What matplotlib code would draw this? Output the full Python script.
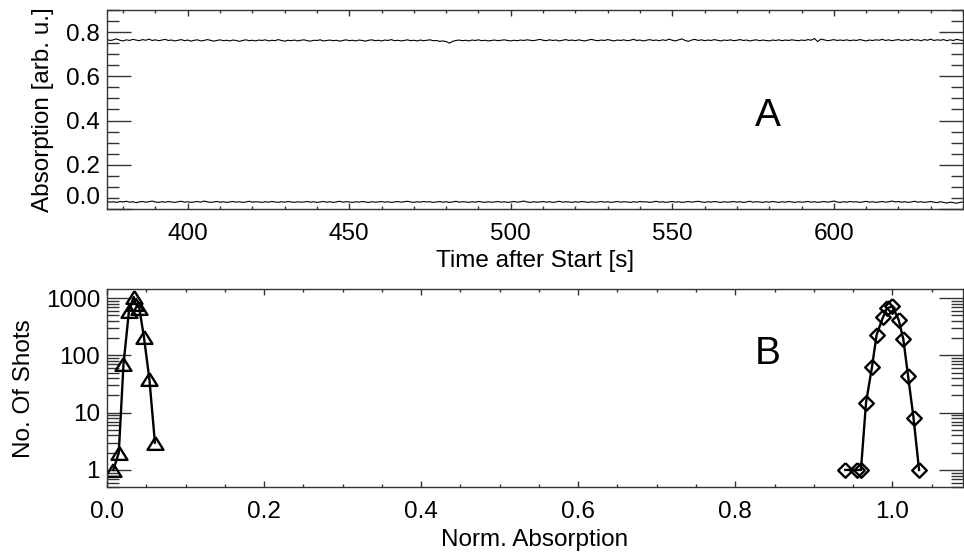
import matplotlib
matplotlib.use("Agg")
import matplotlib.pyplot as plt
import numpy as np
from matplotlib.ticker import FixedLocator, MultipleLocator, NullFormatter, LogLocator, FormatStrFormatter

plt.rcParams["font.family"] = ["Liberation Sans", "DejaVu Sans"]
plt.rcParams["font.size"] = 17.5

# --- panel A: absorption traces (one value per second) ---
time_start = 375.0
time_step = 1.0
trace_high = [
    0.766, 0.762, 0.765, 0.769, 0.763, 0.760, 0.765, 0.762, 0.767, 0.764, 0.761, 0.766, 0.763, 0.768, 0.762, 0.765, 0.761, 0.764, 0.767,
    0.762, 0.764, 0.760, 0.763, 0.766, 0.761, 0.764, 0.759, 0.763, 0.765, 0.760, 0.762, 0.766, 0.763, 0.759, 0.762, 0.765, 0.761, 0.763,
    0.760, 0.764, 0.762, 0.758, 0.762, 0.765, 0.761, 0.763, 0.760, 0.764, 0.762, 0.765, 0.760, 0.763, 0.761, 0.766, 0.762, 0.759, 0.763,
    0.761, 0.764, 0.760, 0.763, 0.765, 0.761, 0.759, 0.763, 0.762, 0.765, 0.760, 0.762, 0.764, 0.761, 0.763, 0.759, 0.762, 0.765, 0.761,
    0.763, 0.760, 0.764, 0.762, 0.759, 0.763, 0.765, 0.761, 0.763, 0.760, 0.764, 0.762, 0.766, 0.761, 0.763, 0.760, 0.762, 0.765, 0.761,
    0.763, 0.760, 0.764, 0.761, 0.763, 0.765, 0.761, 0.762, 0.758, 0.760, 0.757, 0.750, 0.758, 0.762, 0.764, 0.761, 0.763, 0.760, 0.764,
    0.762, 0.765, 0.761, 0.763, 0.760, 0.762, 0.764, 0.761, 0.763, 0.765, 0.762, 0.760, 0.763, 0.761, 0.764, 0.762, 0.765, 0.763, 0.761,
    0.764, 0.767, 0.763, 0.761, 0.765, 0.762, 0.764, 0.760, 0.763, 0.766, 0.762, 0.764, 0.761, 0.765, 0.762, 0.760, 0.764, 0.767, 0.763,
    0.761, 0.764, 0.762, 0.766, 0.763, 0.760, 0.764, 0.762, 0.765, 0.761, 0.763, 0.767, 0.762, 0.764, 0.760, 0.763, 0.766, 0.762, 0.764,
    0.761, 0.765, 0.762, 0.768, 0.763, 0.760, 0.765, 0.769, 0.762, 0.758, 0.764, 0.767, 0.762, 0.765, 0.761, 0.764, 0.762, 0.766, 0.763,
    0.760, 0.764, 0.762, 0.765, 0.761, 0.763, 0.766, 0.762, 0.764, 0.760, 0.763, 0.765, 0.761, 0.764, 0.762, 0.760, 0.764, 0.762, 0.765,
    0.761, 0.764, 0.762, 0.765, 0.763, 0.761, 0.764, 0.762, 0.766, 0.763, 0.771, 0.757, 0.768, 0.765, 0.761, 0.763, 0.766, 0.762, 0.764,
    0.762, 0.765, 0.761, 0.764, 0.762, 0.766, 0.763, 0.760, 0.764, 0.762, 0.765, 0.763, 0.767, 0.762, 0.765, 0.761, 0.764, 0.766, 0.762,
    0.765, 0.762, 0.767, 0.763, 0.765, 0.761, 0.766, 0.763, 0.768, 0.762, 0.765, 0.763, 0.766, 0.761, 0.765, 0.762, 0.767, 0.764, 0.762,
]
trace_low = [
    0.034, 0.031, 0.033, 0.030, 0.034, 0.032, 0.035, 0.031, 0.033, 0.029, 0.032, 0.034, 0.031, 0.033, 0.036, 0.032, 0.030, 0.033, 0.031,
    0.034, 0.032, 0.030, 0.033, 0.035, 0.031, 0.033, 0.030, 0.032, 0.034, 0.031, 0.036, 0.033, 0.030, 0.032, 0.034, 0.031, 0.033, 0.030,
    0.032, 0.034, 0.031, 0.033, 0.030, 0.032, 0.035, 0.031, 0.033, 0.032, 0.030, 0.033, 0.031, 0.034, 0.032, 0.030, 0.033, 0.031, 0.034,
    0.032, 0.030, 0.033, 0.031, 0.032, 0.034, 0.031, 0.033, 0.030, 0.032, 0.034, 0.031, 0.033, 0.030, 0.032, 0.035, 0.031, 0.033, 0.032,
    0.030, 0.033, 0.031, 0.034, 0.032, 0.030, 0.033, 0.031, 0.032, 0.034, 0.031, 0.033, 0.030, 0.032, 0.034, 0.031, 0.033, 0.035, 0.032,
    0.030, 0.033, 0.031, 0.034, 0.032, 0.033, 0.030, 0.032, 0.034, 0.031, 0.033, 0.030, 0.032, 0.035, 0.031, 0.033, 0.032, 0.030, 0.033,
    0.031, 0.034, 0.032, 0.030, 0.033, 0.031, 0.032, 0.034, 0.031, 0.033, 0.030, 0.032, 0.034, 0.031, 0.033, 0.036, 0.032, 0.030, 0.033,
    0.031, 0.032, 0.034, 0.031, 0.033, 0.030, 0.032, 0.035, 0.031, 0.033, 0.032, 0.030, 0.033, 0.031, 0.034, 0.032, 0.030, 0.033, 0.031,
    0.032, 0.034, 0.031, 0.033, 0.030, 0.032, 0.034, 0.031, 0.033, 0.032, 0.030, 0.033, 0.031, 0.034, 0.032, 0.033, 0.030, 0.032, 0.035,
    0.031, 0.033, 0.030, 0.032, 0.034, 0.031, 0.033, 0.030, 0.032, 0.034, 0.031, 0.033, 0.035, 0.032, 0.030, 0.033, 0.031, 0.034, 0.032,
    0.030, 0.033, 0.031, 0.032, 0.034, 0.031, 0.033, 0.030, 0.032, 0.035, 0.031, 0.033, 0.032, 0.030, 0.033, 0.031, 0.034, 0.032, 0.030,
    0.033, 0.031, 0.034, 0.032, 0.030, 0.033, 0.031, 0.032, 0.034, 0.031, 0.033, 0.030, 0.032, 0.034, 0.031, 0.033, 0.036, 0.032, 0.030,
    0.033, 0.031, 0.034, 0.032, 0.033, 0.030, 0.032, 0.035, 0.031, 0.033, 0.030, 0.032, 0.034, 0.031, 0.033, 0.036, 0.032, 0.034, 0.031,
    0.033, 0.030, 0.032, 0.035, 0.031, 0.033, 0.030, 0.032, 0.034, 0.031, 0.029, 0.033, 0.030, 0.027, 0.031, 0.029, 0.026, 0.030, 0.032,
]

# --- panel B: histograms of normalised absorption ---
low_x = [0.008, 0.015, 0.021, 0.028, 0.034, 0.036, 0.041, 0.047, 0.054, 0.061]
low_counts = [1, 2, 70, 600, 1050, 800, 680, 210, 38, 3]
high_x = [0.940, 0.955, 0.960, 0.9665, 0.974, 0.980, 0.988, 0.993, 1.000, 1.008, 1.014, 1.020, 1.027, 1.034]
high_counts = [1, 1, 1, 15, 62, 230, 460, 660, 720, 420, 190, 44, 8, 1]

time = time_start + time_step * np.arange(len(trace_high))

fig = plt.figure(figsize=(9.64, 5.53), dpi=100)
ax1 = fig.add_axes([0.111, 0.622, 0.888, 0.360])
ax2 = fig.add_axes([0.111, 0.119, 0.888, 0.358])

ax1.plot(time, trace_high, color="black", lw=0.8)
ax1.plot(time, trace_low, color="black", lw=0.8)
ax1.set_xlim(375, 640)
ax1.set_ylim(0.0, 0.9)
ax1.xaxis.set_major_locator(MultipleLocator(50))
ax1.xaxis.set_minor_locator(MultipleLocator(10))
ax1.yaxis.set_major_locator(FixedLocator([0.0, 0.2, 0.4, 0.6, 0.8]))
ax1.yaxis.set_minor_locator(MultipleLocator(0.05))
ax1.yaxis.set_major_formatter(FormatStrFormatter("%.1f"))
ax1.set_xlabel("Time after Start [s]", labelpad=4)
ax1.set_ylabel("Absorption [arb. u.]", labelpad=9)
ax1.text(0.772, 0.467, "A", transform=ax1.transAxes, fontsize=28, ha="center", va="center")

tri = [(0, 0.8), (-1, -0.8), (1, -0.8), (0, 0.8)]
dia = [(0, 1), (1, 0), (0, -1), (-1, 0), (0, 1)]
ax2.plot(low_x, low_counts, color="black", lw=1.7, marker=tri, ms=11.5,
         mfc="none", mec="black", mew=1.7)
ax2.plot(high_x, high_counts, color="black", lw=1.7, marker=dia, ms=10.5,
         mfc="none", mec="black", mew=1.7)
ax2.set_yscale("log")
ax2.set_xlim(0.0, 1.09)
ax2.set_ylim(0.5, 1430)
ax2.xaxis.set_major_locator(MultipleLocator(0.2))
ax2.xaxis.set_minor_locator(MultipleLocator(0.05))
ax2.xaxis.set_major_formatter(FormatStrFormatter("%.1f"))
ax2.yaxis.set_major_locator(FixedLocator([1, 10, 100, 1000]))
ax2.yaxis.set_major_formatter(FormatStrFormatter("%d"))
ax2.yaxis.set_minor_locator(LogLocator(base=10, subs=np.arange(2, 10)))
ax2.yaxis.set_minor_formatter(NullFormatter())
ax2.set_xlabel("Norm. Absorption", labelpad=4)
ax2.set_ylabel("No. Of Shots", labelpad=8)
ax2.text(0.772, 0.672, "B", transform=ax2.transAxes, fontsize=28, ha="center", va="center")

for ax in (ax1, ax2):
    for sp in ax.spines.values():
        sp.set_linewidth(1.0)
        sp.set_color("#333333")
    ax.tick_params(which="both", direction="in", top=True, right=True, color="#333333", width=1.0)
    ax.tick_params(axis="y", which="major", length=17)
    ax.tick_params(axis="y", which="minor", length=8.5)
    ax.tick_params(axis="x", which="major", length=4, pad=10)
    ax.tick_params(axis="x", which="minor", length=2)
    ax.tick_params(axis="y", pad=5)

# the 0.0 label on panel A sits slightly above its tick in the original
ax1.yaxis.get_major_ticks()[0].label1.set_verticalalignment("bottom")

fig.savefig("out.png", dpi=100)
